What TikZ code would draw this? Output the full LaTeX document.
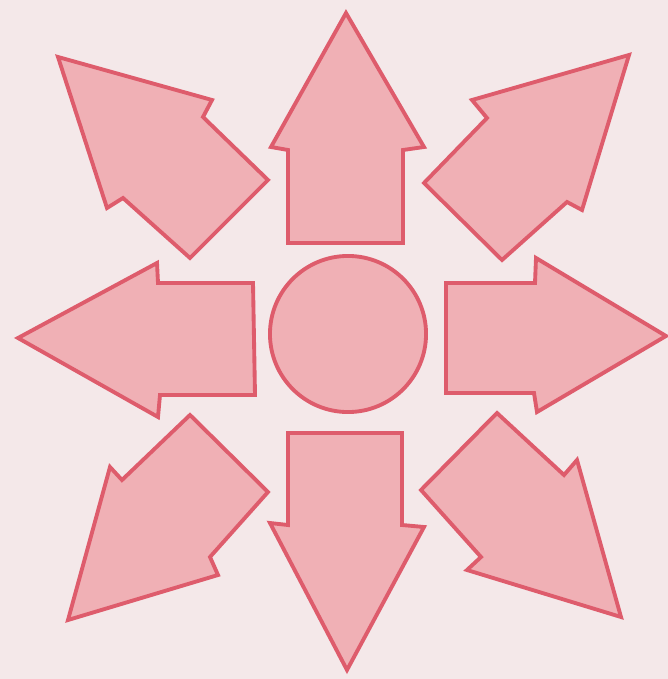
\documentclass[tikz,border=0pt]{standalone}
\usepackage{tikz}
\usetikzlibrary{positioning}
\usepackage{xcolor}
\definecolor{paper}{RGB}{244,232,233}
\definecolor{petal}{RGB}{240,176,181}
\definecolor{petaledge}{RGB}{222,92,108}
\tikzset{
  blockarrow/.style={draw=petaledge,fill=petal,line width=1.1pt,line join=miter},
  hub/.style={circle,draw=petaledge,fill=petal,line width=1.1pt,
              minimum size=1.56cm,inner sep=0pt},
}
\begin{document}
\begin{tikzpicture}[x=0.01cm,y=-0.01cm]
  \fill[paper] (0,0) rectangle (668,679);
  % centre
  \node[hub] (centre) at (348,334) {};
  % straight arrows
  \draw[blockarrow] (288,243) -- (288,150) -- (271,147) -- (346,13)
    -- (424,147) -- (403,150) -- (403,243) -- cycle;
  \draw[blockarrow] (288,433) -- (288,525) -- (270,523) -- (347,670)
    -- (424,527) -- (402,525) -- (402,433) -- cycle;
  \draw[blockarrow] (446,283) -- (535,283) -- (536,258) -- (666,336)
    -- (537,412) -- (534,393) -- (446,393) -- cycle;
  \draw[blockarrow] (253,283) -- (158,283) -- (157,263) -- (18,338)
    -- (158,417) -- (160,395) -- (255,395) -- cycle;
  % diagonal arrows
  \draw[blockarrow] (58,57) -- (212,100) -- (203,117) -- (268,180)
    -- (190,258) -- (123,198) -- (107,208) -- cycle;
  \draw[blockarrow] (629,55) -- (472,100) -- (487,118) -- (424,183)
    -- (502,260) -- (567,202) -- (582,210) -- cycle;
  \draw[blockarrow] (68,620) -- (110,467) -- (122,480) -- (190,415)
    -- (268,492) -- (210,557) -- (218,575) -- cycle;
  \draw[blockarrow] (621,617) -- (577,460) -- (564,475) -- (497,413)
    -- (421,490) -- (481,557) -- (467,570) -- cycle;
\end{tikzpicture}
\end{document}
